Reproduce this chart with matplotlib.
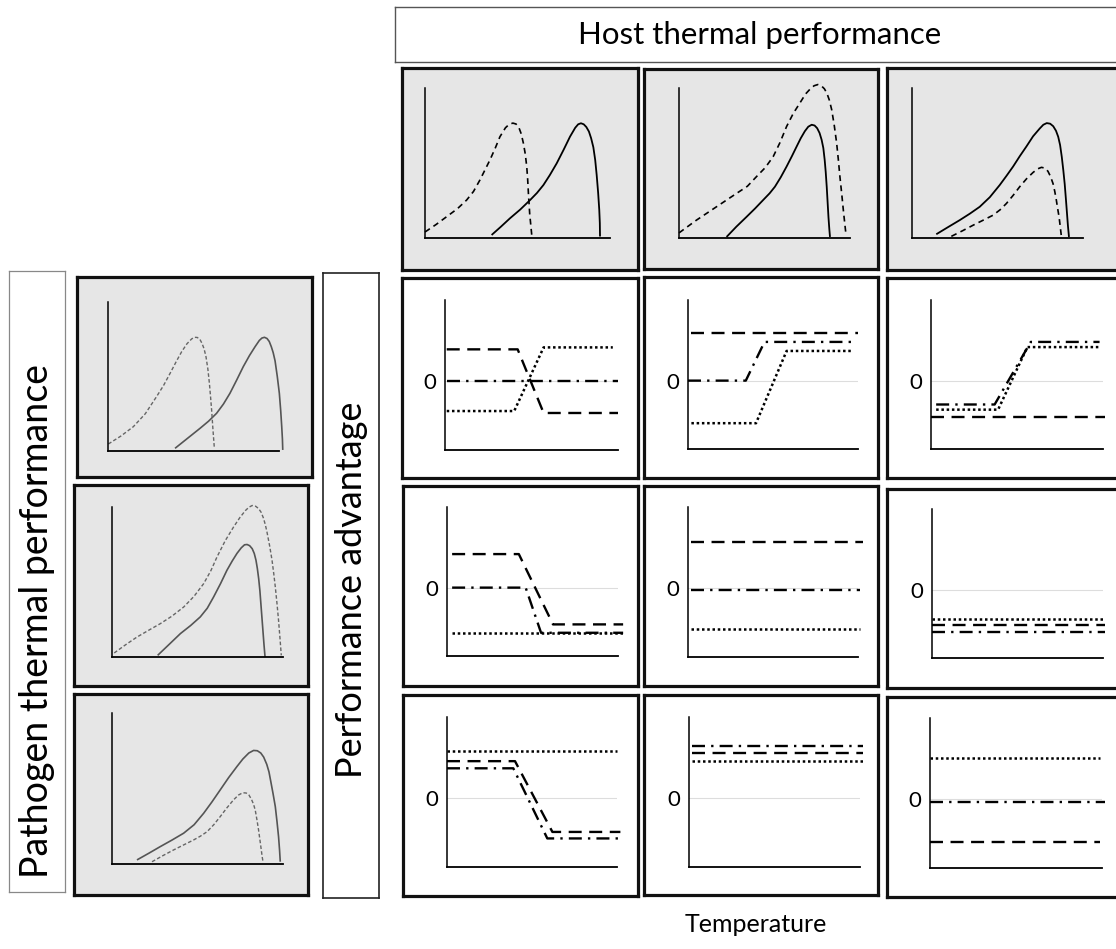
import matplotlib
matplotlib.use("Agg")
import matplotlib.pyplot as plt

plt.rcParams['font.family'] = ['Lato', 'DejaVu Sans']

W, H = 1116, 949

# ---- courbes de performance thermique (fractions des axes internes) ----
# rangee du haut (hote)
top1_dash = [(0.0, 0.04), (0.06, 0.09), (0.117, 0.142), (0.175, 0.195), (0.225, 0.253), (0.262, 0.31),
             (0.297, 0.387), (0.351, 0.52), (0.38, 0.6), (0.405, 0.675), (0.435, 0.735), (0.455, 0.758),
             (0.475, 0.766), (0.492, 0.76), (0.507, 0.738), (0.52, 0.695), (0.532, 0.631), (0.542, 0.56),
             (0.55, 0.475), (0.555, 0.39), (0.559, 0.298), (0.566, 0.16), (0.577, 0.02)]
top1_solid = [(0.36, 0.02), (0.41, 0.075), (0.459, 0.131), (0.515, 0.19), (0.568, 0.253), (0.605, 0.3),
              (0.64, 0.353), (0.675, 0.42), (0.712, 0.498), (0.75, 0.59), (0.784, 0.676), (0.812, 0.735),
              (0.828, 0.758), (0.843, 0.765), (0.858, 0.758), (0.872, 0.74), (0.886, 0.71), (0.898, 0.665),
              (0.91, 0.605), (0.92, 0.52), (0.928, 0.42), (0.936, 0.3), (0.942, 0.187), (0.945, 0.1),
              (0.946, 0.01)]
top2_dash = [(0.0, 0.034), (0.102, 0.119), (0.219, 0.208), (0.336, 0.297), (0.4, 0.345), (0.453, 0.409),
             (0.505, 0.47), (0.551, 0.543), (0.59, 0.635), (0.629, 0.743), (0.668, 0.83), (0.707, 0.9),
             (0.74, 0.96), (0.766, 0.992), (0.79, 1.015), (0.812, 1.023), (0.832, 1.015), (0.85, 0.995),
             (0.865, 0.965), (0.879, 0.92), (0.893, 0.855), (0.908, 0.75), (0.922, 0.632), (0.932, 0.52),
             (0.941, 0.409), (0.952, 0.29), (0.961, 0.186), (0.97, 0.09), (0.977, 0.018)]
top2_solid = [(0.278, 0.007), (0.335, 0.075), (0.395, 0.141), (0.445, 0.197), (0.492, 0.253), (0.53, 0.298),
              (0.561, 0.342), (0.595, 0.405), (0.629, 0.476), (0.66, 0.545), (0.688, 0.61), (0.712, 0.665),
              (0.736, 0.712), (0.756, 0.742), (0.776, 0.755), (0.793, 0.75), (0.808, 0.732), (0.822, 0.7),
              (0.834, 0.655), (0.844, 0.6), (0.852, 0.52), (0.858, 0.44), (0.864, 0.34), (0.869, 0.24),
              (0.874, 0.14), (0.879, 0.06), (0.883, 0.007)]
top3_solid = [(0.142, 0.025), (0.21, 0.072), (0.279, 0.119), (0.338, 0.162), (0.396, 0.208), (0.455, 0.272),
              (0.513, 0.353), (0.553, 0.415), (0.591, 0.476), (0.63, 0.545), (0.669, 0.61), (0.708, 0.678),
              (0.747, 0.73), (0.768, 0.755), (0.788, 0.766), (0.808, 0.762), (0.826, 0.745), (0.842, 0.715),
              (0.855, 0.675), (0.866, 0.62), (0.876, 0.54), (0.885, 0.45), (0.893, 0.36), (0.9, 0.26),
              (0.906, 0.17), (0.912, 0.08), (0.918, 0.007)]
top3_dash = [(0.23, 0.011), (0.295, 0.048), (0.357, 0.085), (0.415, 0.118), (0.474, 0.152), (0.515, 0.188),
             (0.552, 0.23), (0.592, 0.285), (0.63, 0.342), (0.67, 0.395), (0.708, 0.437), (0.735, 0.461),
             (0.757, 0.471), (0.777, 0.466), (0.795, 0.445), (0.81, 0.41), (0.825, 0.362), (0.835, 0.31),
             (0.844, 0.253), (0.852, 0.195), (0.86, 0.141), (0.867, 0.075), (0.874, 0.007)]

# colonne de gauche (pathogene)
left1_dash = [(0.002, 0.047), (0.075, 0.1), (0.148, 0.163), (0.218, 0.25), (0.284, 0.365), (0.325, 0.44),
              (0.363, 0.521), (0.398, 0.598), (0.431, 0.667), (0.462, 0.72), (0.489, 0.752), (0.505, 0.763),
              (0.522, 0.762), (0.537, 0.75), (0.55, 0.722), (0.562, 0.685), (0.573, 0.633), (0.584, 0.55),
              (0.593, 0.454), (0.6, 0.36), (0.606, 0.275), (0.614, 0.14), (0.622, 0.018)]
left1_solid = [(0.392, 0.018), (0.465, 0.085), (0.538, 0.152), (0.588, 0.2), (0.635, 0.253), (0.675, 0.315),
               (0.713, 0.387), (0.752, 0.475), (0.791, 0.566), (0.827, 0.64), (0.86, 0.7), (0.885, 0.742),
               (0.9, 0.758), (0.915, 0.763), (0.93, 0.755), (0.943, 0.735), (0.955, 0.7), (0.966, 0.66),
               (0.977, 0.605), (0.99, 0.5), (1.002, 0.387), (1.01, 0.27), (1.016, 0.163), (1.02, 0.08),
               (1.022, 0.007)]
left2_dash = [(0.013, 0.027), (0.08, 0.082), (0.146, 0.133), (0.214, 0.178), (0.282, 0.222), (0.35, 0.272),
              (0.419, 0.333), (0.48, 0.405), (0.536, 0.489), (0.578, 0.575), (0.614, 0.667), (0.662, 0.775),
              (0.711, 0.867), (0.748, 0.93), (0.78, 0.976), (0.8, 0.998), (0.82, 1.01), (0.84, 1.005),
              (0.857, 0.99), (0.872, 0.965), (0.886, 0.925), (0.897, 0.88), (0.906, 0.835), (0.922, 0.74),
              (0.936, 0.644), (0.946, 0.555), (0.955, 0.467), (0.965, 0.355), (0.974, 0.244), (0.982, 0.13),
              (0.99, 0.011)]
left2_solid = [(0.267, 0.011), (0.335, 0.085), (0.4, 0.156), (0.46, 0.21), (0.516, 0.267), (0.557, 0.325),
               (0.594, 0.4), (0.635, 0.49), (0.672, 0.578), (0.703, 0.64), (0.731, 0.691), (0.756, 0.728),
               (0.775, 0.748), (0.79, 0.75), (0.805, 0.742), (0.82, 0.722), (0.832, 0.69), (0.842, 0.645),
               (0.85, 0.59), (0.858, 0.52), (0.865, 0.44), (0.871, 0.35), (0.877, 0.26), (0.883, 0.17),
               (0.889, 0.08), (0.895, 0.0)]
left3_solid = [(0.146, 0.027), (0.215, 0.071), (0.282, 0.115), (0.35, 0.158), (0.419, 0.204), (0.48, 0.26),
               (0.536, 0.336), (0.585, 0.412), (0.633, 0.491), (0.682, 0.572), (0.731, 0.646), (0.765, 0.695),
               (0.8, 0.735), (0.828, 0.752), (0.85, 0.75), (0.87, 0.735), (0.887, 0.708), (0.905, 0.66),
               (0.918, 0.61), (0.928, 0.55), (0.942, 0.465), (0.955, 0.38), (0.965, 0.28), (0.974, 0.181),
               (0.98, 0.09), (0.984, 0.015)]
left3_dash = [(0.234, 0.015), (0.297, 0.055), (0.36, 0.093), (0.42, 0.127), (0.477, 0.159), (0.518, 0.185),
              (0.556, 0.214), (0.595, 0.26), (0.633, 0.314), (0.672, 0.372), (0.711, 0.425), (0.74, 0.457),
              (0.765, 0.472), (0.785, 0.47), (0.8, 0.458), (0.815, 0.43), (0.828, 0.395), (0.838, 0.355),
              (0.848, 0.29), (0.857, 0.226), (0.865, 0.16), (0.873, 0.093), (0.878, 0.05), (0.883, 0.015)]

# ---- avantage de performance (0 = pas d'avantage) ----
adv11_dash = [(0.01, 0.49), (0.42, 0.49), (0.57, -0.49), (1.0, -0.49)]
adv11_dot = [(0.01, -0.46), (0.40, -0.46), (0.57, 0.52), (0.97, 0.52)]
adv11_dashdot = [(0.01, 0.0), (1.0, 0.0)]

adv12_dash = [(0.02, 0.74), (1.0, 0.74)]
adv12_dot = [(0.02, -0.66), (0.40, -0.66), (0.58, 0.46), (0.96, 0.46)]
adv12_dashdot = [(0.0, 0.0), (0.34, 0.0), (0.45, 0.60), (0.96, 0.60)]

adv13_dash = [(0.0, -0.57), (1.01, -0.57)]
adv13_dot = [(0.03, -0.45), (0.39, -0.45), (0.56, 0.52), (0.98, 0.52)]
adv13_dashdot = [(0.03, -0.37), (0.37, -0.37), (0.58, 0.60), (0.98, 0.60)]

adv21_dash = [(0.03, 0.52), (0.42, 0.52), (0.62, -0.57), (1.03, -0.57)]
adv21_dot = [(0.03, -0.70), (1.03, -0.70)]
adv21_dashdot = [(0.03, 0.0), (0.46, 0.0), (0.55, -0.70), (1.03, -0.70)]

adv22_dash = [(0.02, 0.71), (1.03, 0.71)]
adv22_dot = [(0.02, -0.63), (1.01, -0.63)]
adv22_dashdot = [(0.02, -0.03), (1.01, -0.03)]

adv23_dash = [(0.0, -0.55), (1.01, -0.55)]
adv23_dot = [(0.0, -0.45), (1.01, -0.45)]
adv23_dashdot = [(0.0, -0.65), (1.01, -0.65)]

adv31_dash = [(0.0, 0.57), (0.40, 0.57), (0.62, -0.52), (1.02, -0.52)]
adv31_dot = [(0.0, 0.72), (1.0, 0.72)]
adv31_dashdot = [(0.0, 0.46), (0.39, 0.46), (0.59, -0.62), (1.02, -0.62)]

adv32_dash = [(0.02, 0.69), (1.02, 0.69)]
adv32_dot = [(0.02, 0.58), (1.02, 0.58)]
adv32_dashdot = [(0.02, 0.80), (1.02, 0.80)]

adv33_dash = [(0.0, -0.66), (0.99, -0.66)]
adv33_dot = [(0.0, 0.63), (0.99, 0.63)]
adv33_dashdot = [(0.0, -0.05), (1.02, -0.05)]

labels = {'top': 'Host thermal performance',
          'left': 'Pathogen thermal performance',
          'mid': 'Performance advantage',
          'bottom': 'Temperature'}


def rect(x0, y0, x1, y1):
    # pixels -> coordonnees figure
    return [x0 / W, 1 - y1 / H, (x1 - x0) / W, (y1 - y0) / H]


def cadre(box, face, lw=2.3, col='#111111'):
    ax = fig.add_axes(rect(*box))
    ax.set_facecolor(face)
    ax.set_xticks([])
    ax.set_yticks([])
    for s in ax.spines.values():
        s.set_linewidth(lw)
        s.set_color(col)
    return ax


def interne(box, ylim):
    ax = fig.add_axes(rect(*box))
    ax.set_facecolor('none')
    ax.spines['top'].set_visible(False)
    ax.spines['right'].set_visible(False)
    ax.spines['left'].set_linewidth(1.1)
    ax.spines['bottom'].set_linewidth(1.3)
    ax.set_xlim(0, 1)
    ax.set_ylim(*ylim)
    ax.set_xticks([])
    ax.set_yticks([])
    return ax


def trace(ax, pts, **kw):
    xs = [p[0] for p in pts]
    ys = [p[1] for p in pts]
    ax.plot(xs, ys, clip_on=False, solid_capstyle='butt', dash_capstyle='butt',
            solid_joinstyle='round', **kw)


fig = plt.figure(figsize=(W / 100, H / 100), dpi=100)

# boites de titres
ax = cadre((395, 7, 1130, 62), 'white', lw=1.0, col='#555555')
fig.text(760 / W, 1 - 35 / H, labels['top'], ha='center', va='center', fontsize=22.5)
ax = cadre((9, 271, 65, 892), 'white', lw=0.9, col='#888888')
fig.text(37 / W, 1 - 621 / H, labels['left'], rotation=90, ha='center', va='center', fontsize=27)
ax = cadre((323, 273, 379, 898), 'white', lw=1.2, col='#222222')
fig.text(351 / W, 1 - 590 / H, labels['mid'], rotation=90, ha='center', va='center', fontsize=26)
fig.text(756 / W, 1 - 925 / H, labels['bottom'], ha='center', va='center', fontsize=18)

# rangee du haut et colonne de gauche : courbes de performance
tpc_panels = [
    ((402, 68, 638, 270), (425, 88, 610, 238), top1_dash, top1_solid, 'k'),
    ((644, 69, 878, 269), (679, 88, 850, 238), top2_dash, top2_solid, 'k'),
    ((887, 68, 1125, 270), (912, 88, 1083, 238), top3_dash, top3_solid, 'k'),
    ((77, 277, 312, 477), (108, 302, 279, 451), left1_dash, left1_solid, '#555555'),
    ((74, 485, 308, 686), (112, 507, 283, 657), left2_dash, left2_solid, '#555555'),
    ((74, 694, 308, 895), (112, 713, 283, 864), left3_dash, left3_solid, '#555555'),
]
for outer, inner, dash, solid, col in tpc_panels:
    cadre(outer, '#e6e6e6')
    ax = interne(inner, (0, 1))
    if col == 'k':
        trace(ax, solid, color='k', lw=1.3)
        trace(ax, dash, color='k', lw=1.2, dashes=(3.5, 2.6))
    else:
        trace(ax, solid, color=col, lw=1.2)
        trace(ax, dash, color='#666666', lw=1.0, dashes=(2.6, 1.6))

# grille 3x3 : avantage de performance
adv_panels = [
    ((402, 278, 638, 478), (445, 300, 618, 450), adv11_dash, adv11_dot, adv11_dashdot),
    ((644, 277, 878, 478), (688, 300, 858, 449), adv12_dash, adv12_dot, adv12_dashdot),
    ((887, 278, 1125, 478), (931, 300, 1103, 449), adv13_dash, adv13_dot, adv13_dashdot),
    ((403, 486, 638, 686), (447, 507, 618, 656), adv21_dash, adv21_dot, adv21_dashdot),
    ((644, 486, 878, 686), (688, 507, 858, 657), adv22_dash, adv22_dot, adv22_dashdot),
    ((887, 489, 1125, 688), (932, 509, 1103, 658), adv23_dash, adv23_dot, adv23_dashdot),
    ((403, 695, 638, 896), (447, 717, 617, 867), adv31_dash, adv31_dot, adv31_dashdot),
    ((644, 695, 878, 895), (689, 717, 860, 867), adv32_dash, adv32_dot, adv32_dashdot),
    ((887, 697, 1125, 897), (930, 718, 1102, 868), adv33_dash, adv33_dot, adv33_dashdot),
]
for outer, inner, dash, dot, dashdot in adv_panels:
    cadre(outer, 'white')
    ax = interne(inner, (-1.06, 1.25))
    ax.axhline(0, color='#dddddd', lw=0.8, zorder=1)
    ax.set_yticks([0])
    ax.set_yticklabels(['0'], fontsize=16)
    ax.tick_params(axis='y', length=0, pad=6)
    trace(ax, dash, color='k', lw=1.7, dashes=(5.5, 3.2), zorder=3)
    trace(ax, dot, color='k', lw=1.8, dashes=(1.0, 1.1), zorder=3)
    trace(ax, dashdot, color='k', lw=1.7, dashes=(5.5, 2.6, 1.0, 2.6), zorder=3)

fig.savefig('out.png', dpi=100)
